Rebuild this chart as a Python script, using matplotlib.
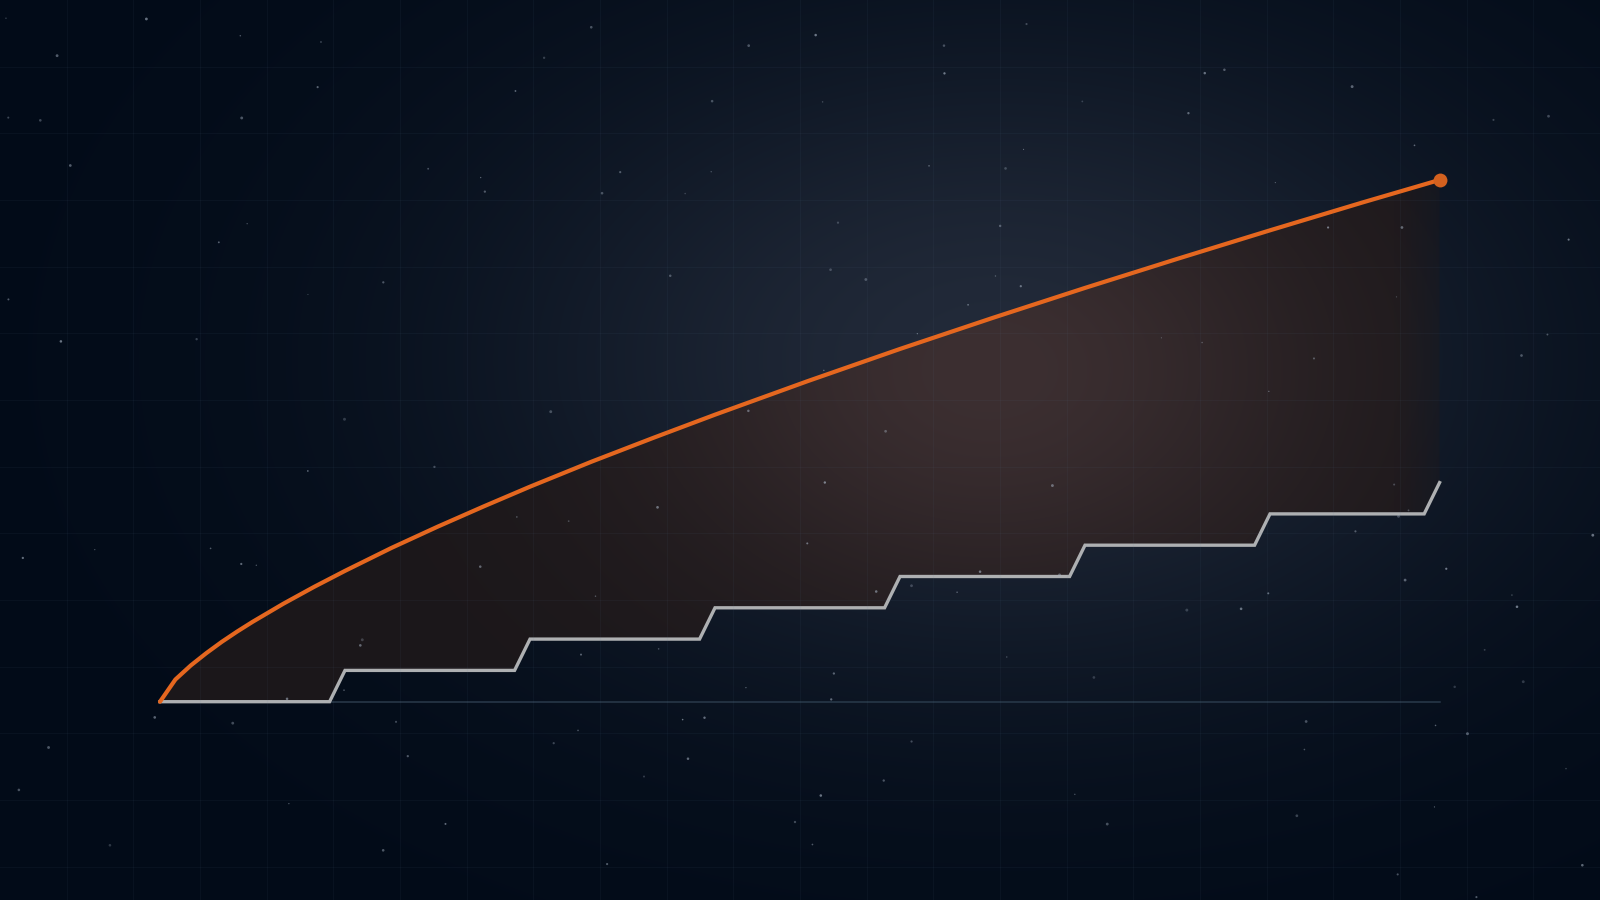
import numpy as np
import matplotlib.pyplot as plt

# --- data (x in months, y in step units) ---
curve_x = [0, 1, 2, 3, 4, 5, 6, 8, 10, 12, 15, 18, 21, 24, 28, 32, 36, 42, 48, 54, 60, 66, 72, 78, 83]
curve_y = [0, 0.71, 1.16, 1.55, 1.91, 2.24, 2.55, 3.13, 3.67, 4.18, 4.91, 5.59, 6.24, 6.87,
           7.67, 8.43, 9.17, 10.24, 11.27, 12.26, 13.22, 14.15, 15.06, 15.95, 16.67]

step_x = [0, 11, 12, 23, 24, 35, 36, 47, 48, 59, 60, 71, 72, 82, 83]
step_y = [0, 0, 1, 1, 2, 2, 3, 3, 4, 4, 5, 5, 6, 6, 7]

W, H = 1600, 900
fig = plt.figure(figsize=(16, 9), dpi=100)

# background axes in pixel coords
bg = fig.add_axes([0, 0, 1, 1], zorder=0)
bg.set_xlim(0, W)
bg.set_ylim(H, 0)
bg.axis('off')

yy, xx = np.mgrid[0:H, 0:W] + 0.5
d2 = ((xx - 1000) / 520) ** 2 + ((yy - 360) / 330) ** 2
g = np.exp(-d2)[..., None]
base = np.array([2, 11, 24]) / 255
glow = np.array([34, 42, 57]) / 255
bg.imshow(base + (glow - base) * g, extent=(0, W, H, 0), aspect='auto', interpolation='bilinear')

# data axes (same full-figure area)
ax = fig.add_axes([0, 0, 1, 1], zorder=1)
ax.patch.set_alpha(0)
ax.axis('off')
sx, sy = 185.0 / 12, 31.3     # px per unit
x0, y0 = 160.0, 701.7         # origin in px (from top)
xlim = (-x0 / sx, (W - x0) / sx)
ylim = (-(H - y0) / sy, y0 / sy)
ax.set_xlim(*xlim)
ax.set_ylim(*ylim)

# warm glowing fill between the two series
poly = ax.fill(np.concatenate([curve_x, step_x[::-1]]),
               np.concatenate([curve_y, step_y[::-1]]),
               facecolor='none', edgecolor='none')[0]
d2f = ((xx - 990) / 330) ** 2 + ((yy - 370) / 240) ** 2
gf = np.exp(-d2f)[..., None]
fbase = np.array([27, 23, 26]) / 255
fglow = np.array([60, 47, 49]) / 255
fill_rgb = fbase + (fglow - fbase) * gf
# soft fade at the right edge
fade = np.clip((1440 - xx) / 45, 0, 1) * 0.55 + 0.45
fill_img = np.dstack([fill_rgb, fade])
im = ax.imshow(fill_img, extent=(xlim[0], xlim[1], ylim[0], ylim[1]), aspect='auto',
               interpolation='bilinear', zorder=1)
im.set_clip_path(poly)

# baseline
ax.plot([0, step_x[-1]], [0, 0], color='#2a3a4b', lw=1.1, zorder=2)
# step series
ax.plot(step_x, step_y, color='#aeb0b2', lw=2.4, solid_joinstyle='miter', zorder=3)
# curve series
ax.plot(curve_x, curve_y, color='#e5671f', lw=3.0, solid_capstyle='round',
        solid_joinstyle='round', zorder=4)
ax.plot(curve_x[-1], curve_y[-1], 'o', color='#d3611f', ms=10, mec='none', zorder=5)

# overlay axes: faint grid + stars
top = fig.add_axes([0, 0, 1, 1], zorder=2)
top.patch.set_alpha(0)
top.set_xlim(0, W)
top.set_ylim(H, 0)
top.axis('off')
step = W / 24
for gx in np.arange(step, W, step):
    top.axvline(gx, color='#5a7896', lw=0.8, alpha=0.07)
for gy in np.arange(step, H, step):
    top.axhline(gy, color='#5a7896', lw=0.8, alpha=0.07)

rng = np.random.default_rng(7)
n = 150
stx = rng.uniform(0, W, n)
sty = rng.uniform(0, H, n)
sts = rng.uniform(0.5, 4.5, n)
sta = rng.uniform(0.25, 0.65, n)
cols = np.zeros((n, 4))
cols[:, :3] = np.array([170, 182, 198]) / 255
cols[:, 3] = sta
top.scatter(stx, sty, s=sts, c=cols, linewidths=0)

fig.savefig('out.png', dpi=100)
